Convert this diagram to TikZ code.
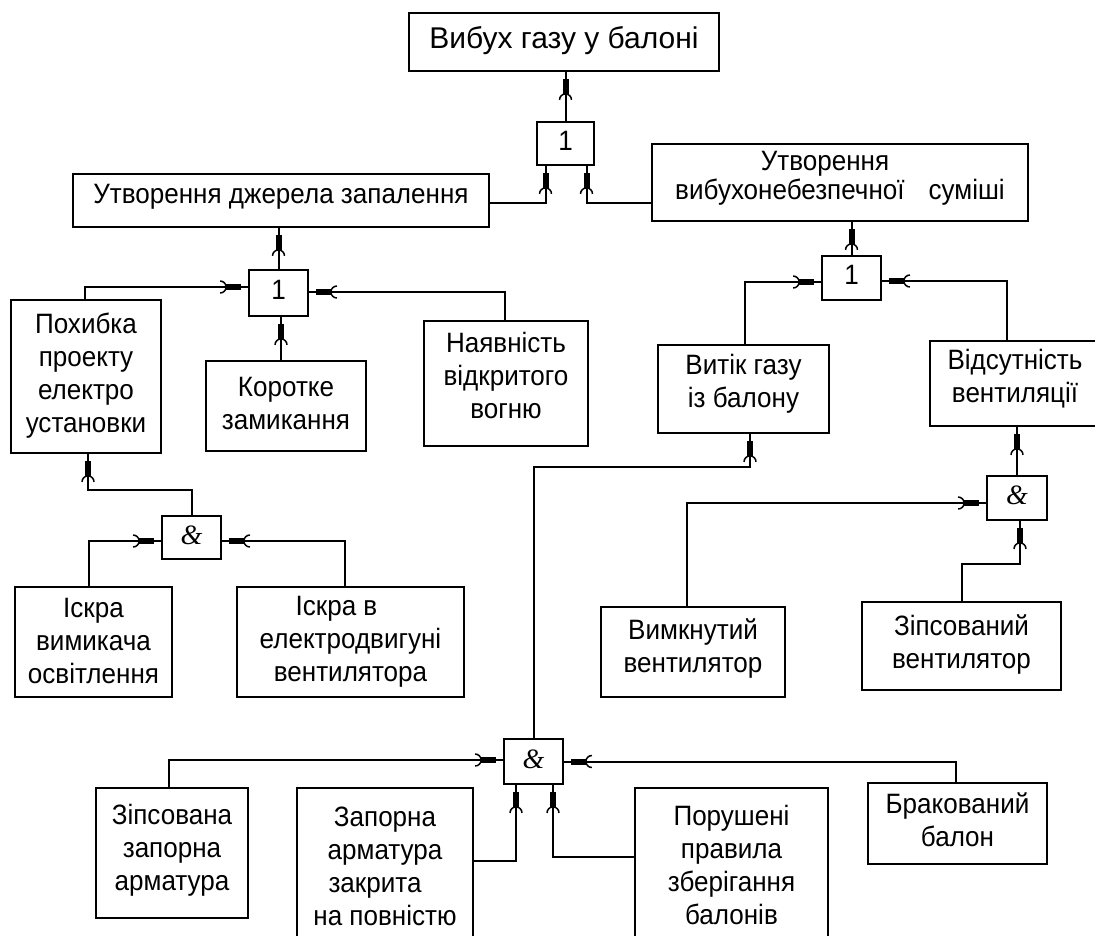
\documentclass[tikz,border=0pt]{standalone}
\usepackage{fontspec}
\setmainfont{Liberation Sans}[FakeStretch=0.93]
\newfontfamily\topfont{Liberation Sans}
\newfontfamily\ampfont{Liberation Serif}
\usetikzlibrary{decorations.markings}
\tikzset{
  box/.style={draw, line width=1.8pt, inner sep=0pt, font=\fontsize{28}{33}\selectfont},
  tipmark/.style={decoration={markings, mark=at position 1 with {
      \fill (-22pt,-3pt) rectangle (-7pt,3pt);
      \draw[line width=1.5pt] (-28pt,-6pt) arc[start angle=-90,end angle=90,radius=6pt];}}, decorate},
  arr/.style={draw, line width=2pt, postaction={tipmark}},
}
\newcommand{\bx}[8][]{\node[box,#1, minimum width={(#5-#3)*1pt}, minimum height={(#6-#4)*1pt}] (#2) at ({(#3+#5)/2},{(#4+#6)/2}) {\raisebox{#7pt}[\height][\depth]{\begin{tabular}{@{}c@{}}#8\end{tabular}}};}
\newcommand{\amp}{{\ampfont\itshape\&}}
\begin{document}
\begin{tikzpicture}[x=1pt,y=-1pt]
\fill[white] (0,0) rectangle (1095,935);
\useasboundingbox (0,0) rectangle (1095,935);
\bx[font=\topfont\fontsize{30}{33}\selectfont]{top}{409}{13}{719}{71}{0}{Вибух газу у балоні}
\bx{or1}{537}{122}{594}{165}{0}{1}
\bx{ign}{73}{174}{489}{227}{4}{Утворення джерела запалення}
\bx[font=\fontsize{28}{28}\selectfont]{mix}{652}{144}{1028}{221}{3}{Утворення\hspace*{30pt}\\вибухонебезпечної\hspace{0.6em} суміші}
\bx{or2}{249}{270}{308}{316}{0}{1}
\bx{pokh}{11}{300}{161}{453}{0}{Похибка\\проекту\\електро\\установки}
\bx{kor}{206}{361}{366}{451}{0}{Коротке\\замикання}
\bx{nay}{424}{321}{588}{446}{5}{Наявність\\відкритого\\вогню}
\bx{or3}{822}{256}{881}{300}{0}{1}
\bx{vyt}{658}{345}{829}{433}{5}{Витік газу\\із балону}
\bx{vid}{930}{341}{1100}{426}{4}{Відсутність\\вентиляції}
\bx{and1}{162}{516}{221}{559}{0}{\amp}
\bx{isk1}{15}{587}{172}{697}{-2}{Іскра\\вимикача\\освітлення}
\bx{isk2}{237}{587}{464}{697}{0}{Іскра в\hspace*{28pt}\\електродвигуні\\вентилятора}
\bx{and2}{987}{476}{1047}{520}{0}{\amp}
\bx{vymk}{601}{607}{785}{697}{3}{Вимкнутий\\вентилятор}
\bx{zips}{862}{602}{1061}{690}{1}{Зіпсований\\вентилятор}
\bx{and3}{504}{739}{563}{784}{0}{\amp}
\bx{zipz}{96}{788}{248}{918}{2}{Зіпсована\\запорна\\арматура}
\bx{zap}{297}{788}{473}{940}{-5}{Запорна\\арматура\\закрита\hspace*{20pt}\\на повністю}
\bx{por}{635}{788}{828}{940}{-4}{Порушені\\правила\\зберігання\\балонів}
\bx{brak}{868}{783}{1047}{864}{0}{Бракований\\балон}

\path[arr] (or1.north) -- (or1.north |- top.south);
\path[arr] ([yshift=-2pt]ign.east) -| ([xshift=-20pt]or1.south);
\path[arr] ([yshift=-2pt]mix.west |- ign.east) -| ([xshift=21pt]or1.south);
\path[arr] (or2.north) -- (or2.north |- ign.south);
\path[arr] ([xshift=-1pt]pokh.north) |- ([yshift=6pt]or2.west);
\path[arr] ([xshift=-5pt]kor.north) -- ([xshift=-5pt]kor.north |- or2.south);
\path[arr] ([xshift=-1pt]nay.north) |- ([yshift=1pt]or2.east);
\path[arr] (or3.north) -- (or3.north |- mix.south);
\path[arr] ([xshift=1.5pt]vyt.north) |- ([yshift=-4pt]or3.west);
\path[arr] ([xshift=-8pt]vid.north) |- ([yshift=-3pt]or3.east);
\path[arr] (and1.north) -- ++(0,-25) -| ([xshift=2pt]pokh.south);
\path[arr] ([xshift=-4.5pt]isk1.north) |- ([yshift=-3.5pt]and1.west);
\path[arr] ([xshift=-5.5pt]isk2.north) |- ([yshift=-3.5pt]and1.east);
\path[arr] (and2.north) -- (and2.north |- vid.south);
\path[arr] ([xshift=-6pt]vymk.north) |- ([yshift=-5pt]and2.west);
\path[arr] (zips.north) -- ++(0,-37) -| ([xshift=3pt]and2.south);
\path[arr] (and3.north) -- ++(0,-271) -| ([xshift=6.5pt]vyt.south);
\path[arr] ([xshift=-3pt]zipz.north) |- ([yshift=1.5pt]and3.west);
\path[arr] ([xshift=-1.5pt]brak.north) |- (and3.east);
\path[arr] ([yshift=3pt]zap.east) -| ([xshift=-17.5pt]and3.south);
\path[arr] ([yshift=7pt]por.west) -| ([xshift=19.5pt]and3.south);
\end{tikzpicture}
\end{document}
